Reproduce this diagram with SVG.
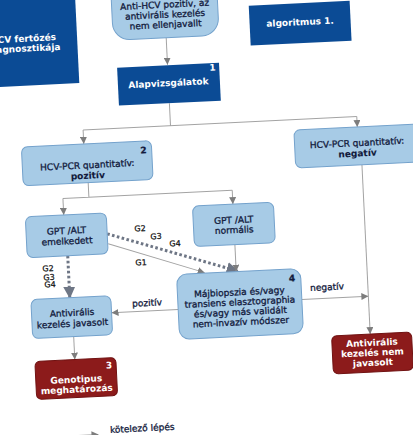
<svg xmlns="http://www.w3.org/2000/svg" width="413" height="435" viewBox="0 0 413 435">
<style>
text{font-family:"DejaVu Sans","Verdana",sans-serif;font-size:9px;text-anchor:middle}
.dk{fill:#0b4b95}
.lb{fill:#a7cbe6;stroke:#74a2cc;stroke-width:1}
.rd{fill:#8c1b1b;stroke:#701212;stroke-width:1}
.w{fill:#ffffff;font-weight:bold}
.n{fill:#121a3c;stroke:#121a3c;stroke-width:0.3}
.b{font-weight:bold;stroke-width:0.1}
.num{font-weight:bold;text-anchor:end}
.c{fill:none;stroke:#a3a3a3;stroke-width:1}
.ca{fill:none;stroke:#a3a3a3;stroke-width:1;marker-end:url(#ah)}
.d{fill:none;stroke:#6e7685;stroke-width:3;stroke-dasharray:2.6 2.4;marker-end:url(#ahb)}
.lbl{fill:#111;stroke:#111;stroke-width:0.25;font-size:8px}
</style>
<defs>
<marker id="ah" markerWidth="7" markerHeight="7" refX="7" refY="3.5" orient="auto" markerUnits="userSpaceOnUse"><path d="M0,0 L7,3.5 L0,7 z" fill="#7d7d7d"/></marker>
<marker id="ahb" markerWidth="12" markerHeight="12" refX="11" refY="6" orient="auto" markerUnits="userSpaceOnUse"><path d="M0,0 L12,6 L0,12 z" fill="#6e7685"/></marker>
</defs>
<rect width="413" height="435" fill="#ffffff"/>
<g transform="rotate(-2.8 206 217)">
<g id="connectors">
<path class="ca" d="M175,36 V63"/>
<path class="c" d="M175,101.5 V124 M87.5,124 H361.5"/>
<path class="ca" d="M87.5,124 V138"/>
<path class="ca" d="M361.5,124 V134.5"/>
<path class="c" d="M90,177 V191.5 M64,191.5 H233.5"/>
<path class="ca" d="M64,191.5 V208"/>
<path class="ca" d="M233.5,191.5 V205.5"/>
<path class="d" d="M66,249 V291"/>
<path class="d" d="M106.5,229 L235,272.5"/>
<path class="ca" d="M107,239 L202,272.5"/>
<path class="ca" d="M233.5,246 V273"/>
<path class="ca" d="M173.7,308 H107"/>
<path class="ca" d="M297.7,304 H364.3"/>
<path class="ca" d="M364.3,172.5 V342"/>
<path class="ca" d="M68,330 V353"/>
<path class="ca" d="M40,429 H88"/>
<text class="lbl" x="139.6" y="228">G2</text>
<text class="lbl" x="155.1" y="236.7">G3</text>
<text class="lbl" x="173.8" y="244.7">G4</text>
<text class="lbl" x="138.9" y="262">G1</text>
<text class="lbl" x="45.7" y="263.4">G2</text>
<text class="lbl" x="46.3" y="272.4">G3</text>
<text class="lbl" x="46.9" y="279.5">G4</text>
<text class="n" x="142.9" y="303">pozitív</text>
<text class="n" x="323.4" y="296">negatív</text>
</g>
<g id="title">
<rect class="dk" x="-22" y="-20" width="108" height="97"/>
<text class="w" x="32" y="33">HCV fertőzés</text>
<text class="w" x="32" y="43">diagnosztikája</text>
</g>
<g id="algoritmus">
<rect class="dk" x="259" y="8" width="101" height="40"/>
<text class="w" x="309.5" y="30">algoritmus 1.</text>
</g>
<g id="antihcv">
<rect class="lb" x="122" y="-25" width="106" height="61" rx="17"/>
<text class="n" x="175" y="6">Anti-HCV pozitív, az</text>
<text class="n" x="175" y="16">antivirális kezelés</text>
<text class="n" x="175" y="26">nem ellenjavallt</text>
</g>
<g id="alap">
<rect class="dk" x="124.5" y="63.5" width="102" height="38"/>
<text class="w" x="175" y="84.5">Alapvizsgálatok</text>
<text class="w num" x="223" y="71">1</text>
</g>
<g id="pcrpoz">
<rect class="lb" x="25" y="138" width="130" height="39" rx="6"/>
<text class="n" x="90" y="162.5">HCV-PCR quantitatív:</text>
<text class="n b" x="90" y="173">pozitív</text>
<text class="n num" x="150" y="150.5">2</text>
</g>
<g id="pcrneg">
<rect class="lb" x="298" y="134.5" width="126" height="38" rx="6"/>
<text class="n" x="360.5" y="153.5">HCV-PCR quantitatív:</text>
<text class="n b" x="360.5" y="164">negatív</text>
</g>
<g id="gptemel">
<rect class="lb" x="25.5" y="208" width="81" height="41" rx="6"/>
<text class="n" x="66" y="227">GPT /ALT</text>
<text class="n" x="66" y="237.5">emelkedett</text>
</g>
<g id="gptnorm">
<rect class="lb" x="193" y="205.5" width="81" height="40.5" rx="6"/>
<text class="n" x="233.5" y="224.5">GPT /ALT</text>
<text class="n" x="233.5" y="234.5">normális</text>
</g>
<g id="maj">
<rect class="lb" x="173.7" y="273" width="124" height="65" rx="10"/>
<text class="n" x="235.7" y="296.7">Májbiopszia és/vagy</text>
<text class="n" x="235.7" y="306.7">transiens elasztographia</text>
<text class="n" x="235.7" y="316.7">és/vagy más validált</text>
<text class="n" x="235.7" y="326.7">nem-invazív módszer</text>
<text class="n num" x="292" y="285.5">4</text>
</g>
<g id="javasolt">
<rect class="lb" x="27" y="291" width="80" height="39" rx="6"/>
<text class="n" x="67.5" y="309.3">Antivirális</text>
<text class="n" x="67.5" y="320">kezelés javasolt</text>
</g>
<g id="genotipus">
<rect class="rd" x="28" y="353" width="81" height="38" rx="5"/>
<text class="w" x="68.5" y="376">Genotipus</text>
<text class="w" x="68.5" y="386">meghatározás</text>
<text class="w num" x="105" y="363.5">3</text>
</g>
<g id="nemjavasolt">
<rect class="rd" x="325.6" y="342" width="80" height="38" rx="5"/>
<text class="w" x="365.6" y="353.8">Antivirális</text>
<text class="w" x="365.6" y="363.8">kezelés nem</text>
<text class="w" x="365.6" y="373.8">javasolt</text>
</g>
<g id="legend">
<text class="n" x="132" y="428">kötelező lépés</text>
</g>
</g>
</svg>
